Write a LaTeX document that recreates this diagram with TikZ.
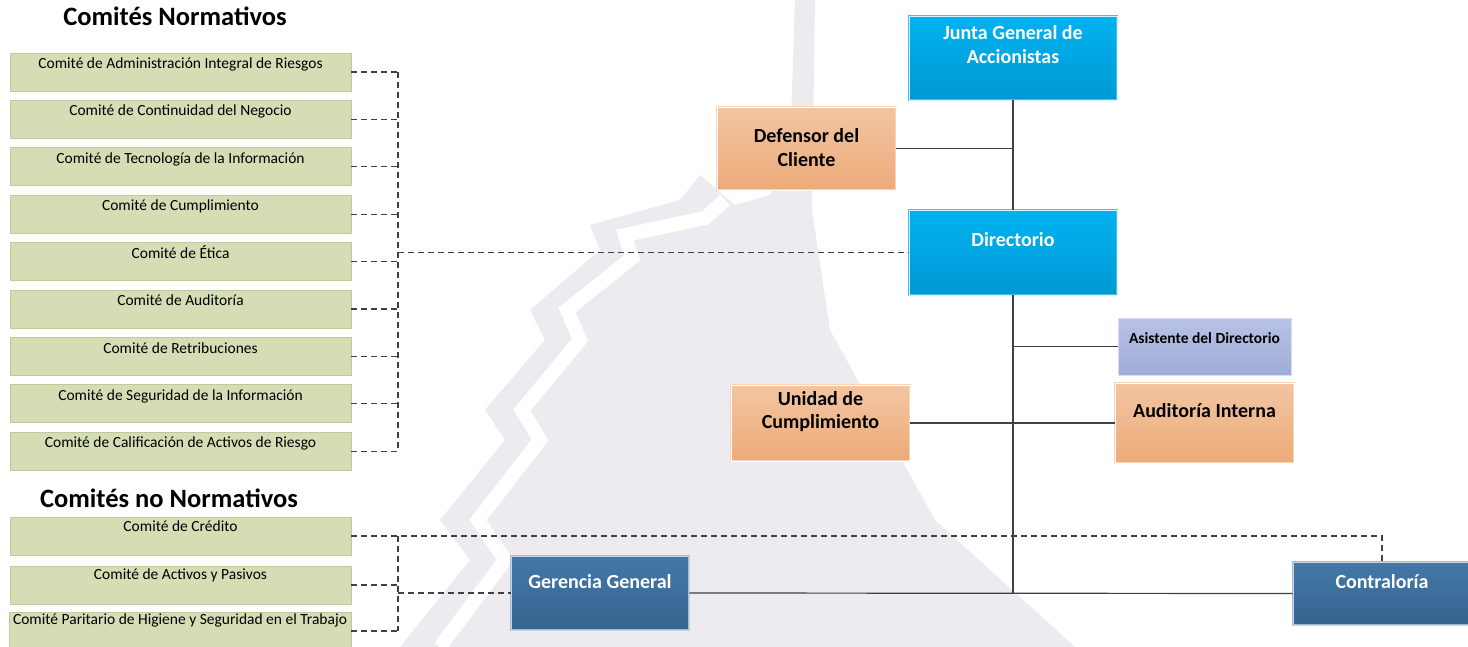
\documentclass[tikz,border=0pt]{standalone}
\usepackage{fontspec}
\setmainfont{Carlito}
\usetikzlibrary{calc}
\definecolor{wm}{HTML}{EEEBF0}
\definecolor{gfill}{HTML}{D5DDB5}
\definecolor{gdraw}{HTML}{BFC999}
\definecolor{btop}{HTML}{00B3F0}
\definecolor{bbot}{HTML}{0098D3}
\definecolor{bdraw}{HTML}{45C0EE}
\definecolor{otop}{HTML}{F3C5A2}
\definecolor{obot}{HTML}{ECAB79}
\definecolor{odraw}{HTML}{F7D3B8}
\definecolor{ltop}{HTML}{B8C2E6}
\definecolor{lbot}{HTML}{A1ACD7}
\definecolor{ldraw}{HTML}{D8DEF1}
\definecolor{dtop}{HTML}{4478A8}
\definecolor{dbot}{HTML}{35648F}
\definecolor{ddraw}{HTML}{A3BCD4}
\definecolor{conn}{HTML}{404040}
\tikzset{
  box/.style={rectangle, inner sep=0pt, anchor=center},
  greenbox/.style={box, fill=gfill, draw=gdraw, line width=0.8pt, minimum width=341pt, minimum height=38pt},
  bluebox/.style={box, top color=btop, bottom color=bbot, draw=bdraw, double=white!85!btop, double distance=0.6pt, line width=0.7pt},
  orangebox/.style={box, top color=otop, bottom color=obot, draw=odraw, double=white, double distance=0.6pt, line width=0.7pt},
  lavbox/.style={box, top color=ltop, bottom color=lbot, draw=ldraw, line width=1pt},
  darkbox/.style={box, top color=dtop, bottom color=dbot, draw=ddraw, double=white!70!dtop, double distance=0.6pt, line width=0.7pt},
  gtext/.style={anchor=base, inner sep=0pt, font=\fontsize{15.5}{18}\selectfont},
  wtext/.style={anchor=base, inner sep=0pt, text=white, font=\fontsize{20}{24}\selectfont\bfseries},
  ktext/.style={anchor=base, inner sep=0pt, text=black, font=\fontsize{20}{24}\selectfont\bfseries},
  ttext/.style={anchor=base, inner sep=0pt, text=black, font=\fontsize{26.5}{30}\selectfont\bfseries},
  solidline/.style={draw=conn, line width=1.2pt},
  dashline/.style={draw=conn, line width=1.1pt, dash pattern=on 6pt off 4pt}
}
\begin{document}
\begin{tikzpicture}[x=1pt,y=-1pt]
\useasboundingbox (0,0) rectangle (1468,647);
% watermark
\fill[wm] (400,647) -- (470,560) -- (440,520) -- (505,440) -- (485,410) -- (545,340) -- (530,310) -- (600,250) -- (590,225) -- (680,200) -- (700,175) -- (735,205) -- (770,195) -- (790,150) -- (795,0) -- (815,0) -- (812,210) -- (830,330) -- (935,520) -- (1075,647) -- cycle;
\draw[white, line width=14pt, line join=miter] (440,647) -- (505,560) -- (478,520) -- (540,440) -- (522,410) -- (580,340) -- (567,310) -- (632,258) -- (625,235) -- (705,218) -- (725,200);

% titles
\node[ttext] (t1) at (175,26) {Comités Normativos};
\node[ttext] (t2) at (169,507) {Comités no Normativos};

% normative committees
\foreach \i/\txt in {0/Comité de Administración Integral de Riesgos,
                     1/Comité de Continuidad del Negocio,
                     2/Comité de Tecnología de la Información,
                     3/Comité de Cumplimiento,
                     4/Comité de Ética,
                     5/Comité de Auditoría,
                     6/Comité de Retribuciones,
                     7/Comité de Seguridad de la Información,
                     8/Comité de Calificación de Activos de Riesgo}{
  \node[greenbox] (n\i) at (180.5,{72+47.4*\i}) {};
  \node[gtext] at ($(n\i.north)+(0,16)$) {\txt};
}
% non-normative committees
\node[greenbox] (m0) at (180.5,536) {};
\node[gtext] at ($(m0.north)+(0,15)$) {Comité de Crédito};
\node[greenbox] (m1) at (180.5,585) {};
\node[gtext] at ($(m1.north)+(0,14)$) {Comité de Activos y Pasivos};
\node[greenbox, minimum width=342pt] (m2) at (180,631) {};
\node[gtext] at ($(m2.north)+(0,13)$) {Comité Paritario de Higiene y Seguridad en el Trabajo};

% main boxes
\node[bluebox, minimum width=208pt, minimum height=84pt] (junta) at (1013,58) {};
\node[wtext] at (1013,40) {Junta General de};
\node[wtext] at (1013,64) {Accionistas};
\node[bluebox, minimum width=208pt, minimum height=85pt] (dir) at (1013,252.5) {};
\node[wtext] at (1013,247) {Directorio};
\node[orangebox, minimum width=179pt, minimum height=83pt] (def) at (806.5,148.5) {};
\node[ktext] at (806.5,143) {Defensor del};
\node[ktext] at (806.5,167) {Cliente};
\node[lavbox, minimum width=173pt, minimum height=57pt] (asis) at (1204.5,346.5) {};
\node[ktext, font=\fontsize{15.5}{18}\selectfont\bfseries] at (1204.5,343) {Asistente del Directorio};
\node[orangebox, minimum width=179pt, minimum height=80pt] (aud) at (1204.5,423) {};
\node[ktext] at (1204.5,417) {Auditoría Interna};
\node[orangebox, minimum width=179pt, minimum height=76pt] (uni) at (820.5,423) {};
\node[ktext] at (820.5,405) {Unidad de};
\node[ktext] at (820.5,428) {Cumplimiento};
\node[darkbox, minimum width=178pt, minimum height=74pt] (ger) at (600,593) {};
\node[wtext] at (600,588) {Gerencia General};
\node[darkbox, minimum width=178pt, minimum height=63pt] (con) at (1382,593.5) {};
\node[wtext] at (1382,588) {Contraloría};

% coordinates
\coordinate (vn) at (398,252.5);
\coordinate (vm) at (398,593);
\coordinate (tb) at (1013,593);
\coordinate (cc) at (1382,536);

% dashed connectors (normative)
\foreach \i in {0,...,8}{
  \draw[dashline] (n\i.east) -- (n\i.east -| vn);
}
\draw[dashline] (n0.east -| vn) -- (n8.east -| vn);
\draw[dashline] (vn) -- (dir.west);
% dashed connectors (non-normative)
\draw[dashline] (m1.east) -- (m1.east -| vm);
\draw[dashline] (m2.east) -- (m2.east -| vm);
\draw[dashline] (m0.east -| vm) -- (m2.east -| vm);
\draw[dashline] (vm) -- (ger.west);
\draw[dashline] (m0.east) -- (cc) -- (con.north);

% solid connectors
\draw[solidline] (junta.south) -- (dir.north);
\draw[solidline] (def.east) -- (def.east -| junta.south);
\draw[solidline] (dir.south) -- (tb);
\draw[solidline] (asis.west -| dir.south) -- (asis.west);
\draw[solidline] (uni.east) -- (aud.west);
\draw[solidline] (ger.east) -- (con.west);
\end{tikzpicture}
\end{document}
